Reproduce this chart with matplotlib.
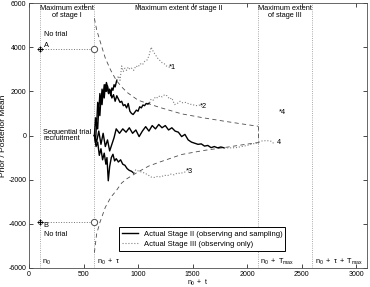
import matplotlib
matplotlib.use('Agg')
import matplotlib.pyplot as plt

plt.rcParams['font.family'] = ['Liberation Sans', 'DejaVu Sans']
plt.rcParams['axes.unicode_minus'] = False
plt.rcParams['mathtext.fontset'] = 'custom'
plt.rcParams['mathtext.rm'] = 'Liberation Sans'
plt.rcParams['mathtext.it'] = 'Liberation Sans'

# stage limits
n0 = 100
tau = 500
t_max = 2000
start_mean = 3900

# stopping boundaries
bound_x = [600, 620, 650, 700, 750, 800, 850, 900, 1000, 1100, 1200, 1400, 1600, 1800, 2000, 2100]
upper_y = [5300, 4800, 4300, 3500, 2950, 2500, 2200, 1950, 1600, 1430, 1270, 980, 800, 640, 490, 420]
lower_y = [-5300, -4470, -3940, -3250, -2800, -2500, -2150, -1950, -1650, -1380, -1200, -860, -680, -540, -390, -320]

# path 1
p1_x = [600, 610, 620, 630, 640, 650, 660, 670, 680, 690, 700, 710, 720, 730, 740, 750, 760, 770, 780, 790, 805]
p1_y = [0, 800, 400, 1500, 1100, 1900, 1500, 2100, 1800, 2300, 2000, 2400, 2200, 1900, 2100, 1800, 2150, 2050, 2300, 2200, 2500]
p1g_x = [805, 820, 835, 850, 865, 880, 895, 910, 925, 940, 960, 980, 1000, 1020, 1040, 1060, 1080, 1100, 1120,
         1140, 1160, 1180, 1200, 1220, 1240, 1260, 1280, 1300]
p1g_y = [2500, 2700, 2500, 3150, 2900, 3050, 2950, 3100, 3000, 3050, 2950, 3150, 3100, 3250, 3200, 3350, 3400, 3600, 4000,
         3800, 3650, 3500, 3400, 3300, 3250, 3150, 3100, 3080]

# path 2
p2_x = [600, 610, 620, 630, 640, 650, 660, 670, 680, 690, 700, 710, 720, 730, 745, 760, 775, 790, 805, 820, 835,
        850, 865, 880, 895, 910, 925, 940, 955, 970, 985, 1000, 1015, 1030, 1045, 1060, 1075, 1090, 1105]
p2_y = [0, -300, 600, 300, 1300, 900, 1700, 1400, 2000, 1700, 2300, 2000, 2250, 1900, 2050, 1700, 1850, 1550, 1800, 1650, 1500,
        1550, 1350, 1400, 1250, 1450, 1100, 1000, 950, 1050, 1150, 1100, 1300, 1250, 1380, 1350, 1450, 1420, 1480]
p2g_x = [1105, 1120, 1140, 1160, 1180, 1200, 1220, 1245, 1265, 1290, 1310, 1335, 1360, 1385, 1410, 1440, 1470, 1500, 1530, 1560, 1585]
p2g_y = [1480, 1650, 1600, 1750, 1700, 1800, 1750, 1850, 1800, 1650, 1700, 1400, 1450, 1550, 1480, 1500, 1420, 1400, 1350, 1380, 1300]

# path 3
p3_x = [600, 615, 630, 645, 660, 675, 690, 705, 715, 727, 740, 755, 770, 785, 800, 820, 840, 860, 880, 900, 920, 940, 960]
p3_y = [0, -500, -300, -900, -600, -1100, -800, -1300, -1000, -2050, -1400, -1000, -850, -1150, -1050, -1200, -1100, -1300,
        -1350, -1500, -1580, -1620, -1700]
p3g_x = [960, 980, 1000, 1030, 1060, 1090, 1120, 1150, 1180, 1210, 1240, 1270, 1300, 1330, 1360, 1390, 1420, 1450]
p3g_y = [-1700, -1550, -1600, -1650, -1700, -1780, -1880, -1900, -1850, -1880, -1800, -1820, -1750, -1780, -1700, -1720,
         -1660, -1650]

# path 4
p4_x = [600, 620, 640, 660, 680, 700, 720, 740, 760, 780, 800, 830, 860, 890, 920, 950, 980, 1010, 1040, 1070, 1100,
        1130, 1160, 1190, 1220, 1250, 1280, 1310, 1340, 1370, 1400, 1430, 1460, 1490, 1520, 1550, 1580, 1610, 1640,
        1670, 1700, 1730, 1760, 1790]
p4_y = [0, -300, 200, -400, 100, -500, -200, -700, -400, -100, 300, 100, 300, 150, 350, 100, 250, -50, 200, 400, 200,
        450, 300, 500, 350, 450, 250, 350, 200, 150, -50, 50, -200, -300, -350, -400, -380, -480, -450,
        -550, -500, -560, -520, -560]
p4g_x = [1790, 1850, 1900, 1950, 2000, 2050, 2100, 2130, 2180, 2220, 2250]
p4g_y = [-560, -560, -550, -500, -450, -380, -330, -250, -230, -260, -380]

black_paths = [(p1_x, p1_y), (p2_x, p2_y), (p3_x, p3_y), (p4_x, p4_y)]
grey_paths = [(p1g_x, p1g_y), (p2g_x, p2g_y), (p3g_x, p3g_y), (p4g_x, p4g_y)]

fig = plt.figure(figsize=(3.7, 2.87), dpi=100)
ax = fig.add_axes([29/370, 19/287, 338/370, 265/287])

# stage limit lines
for xv in [n0, n0 + tau, n0 + t_max, n0 + tau + t_max]:
    ax.axvline(xv, color='0.55', ls=':', lw=0.6)
ax.plot([n0, n0 + tau], [start_mean, start_mean], color='0.45', ls=':', lw=0.7)
ax.plot([n0, n0 + tau], [-start_mean, -start_mean], color='0.45', ls=':', lw=0.7)

# boundaries
ax.plot(bound_x, upper_y, color='0.3', ls=(0, (5, 4)), lw=0.6)
ax.plot(bound_x, lower_y, color='0.3', ls=(0, (5, 4)), lw=0.6)
ax.plot([bound_x[-1], bound_x[-1]], [upper_y[-1], lower_y[-1]], color='0.3', ls=(0, (5, 4)), lw=0.6)

for i, (x, y) in enumerate(black_paths):
    ax.plot(x, y, color='k', lw=1.0, label='Actual Stage II (observing and sampling)' if i == 0 else None)
for i, (x, y) in enumerate(grey_paths):
    ax.plot(x, y, color='0.5', ls=':', lw=0.8, label='Actual Stage III (observing only)' if i == 0 else None)

# start points
ax.plot([n0, n0], [start_mean, -start_mean], 'o', mfc='none', mec='0.3', ms=3, mew=0.6)
ax.plot([n0, n0], [start_mean, -start_mean], '+', color='k', ms=5, mew=0.7)
ax.plot([n0 + tau, n0 + tau], [start_mean, -start_mean], 'o', mfc='white', mec='0.3', ms=4.5, mew=0.7)

fs = 5.3
ax.text(135, 4080, 'A', fontsize=fs, va='center')
ax.text(135, -4080, 'B', fontsize=fs, va='center')
ax.text(135, 4580, 'No trial', fontsize=fs, va='center')
ax.text(135, -4500, 'No trial', fontsize=fs, va='center')
ax.text(130, 0, 'Sequential trial\nrecruitment', fontsize=fs, va='center', linespacing=0.95)
ax.text(350, 5900, 'Maximum extent\nof stage I', fontsize=fs, ha='center', va='top', linespacing=0.95)
ax.text(1370, 5900, 'Maximum extent of stage II', fontsize=fs, ha='center', va='top')
ax.text(2350, 5900, 'Maximum extent\nof stage III', fontsize=fs, ha='center', va='top', linespacing=0.95)

ax.text(p1g_x[-1] - 15, p1g_y[-1], '*1', fontsize=fs, va='center')
ax.text(p2g_x[-1] - 15, p2g_y[-1], '*2', fontsize=fs, va='center')
ax.text(p3g_x[-1] - 15, p3g_y[-1], '*3', fontsize=fs, va='center')
ax.text(p4g_x[-1] + 20, p4g_y[-1] + 50, '4', fontsize=fs, va='center')
ax.text(2290, 1050, '*4', fontsize=fs, va='center')

ax.text(n0 + 20, -5950, r'$\mathregular{n_0}$', fontsize=fs, va='bottom')
ax.text(n0 + tau + 20, -5950, r'$\mathregular{n_0\ +\ \tau}$', fontsize=fs, va='bottom')
ax.text(n0 + t_max + 20, -5950, r'$\mathregular{n_0\ +\ T_{max}}$', fontsize=fs, va='bottom')
ax.text(n0 + tau + t_max + 20, -5950, r'$\mathregular{n_0\ +\ \tau\ +\ T_{max}}$', fontsize=fs, va='bottom')

ax.set_xlim(0, 3100)
ax.set_ylim(-6000, 6000)
ax.set_xticks([0, 500, 1000, 1500, 2000, 2500, 3000])
ax.set_yticks([-6000, -4000, -2000, 0, 2000, 4000, 6000])
ax.tick_params(direction='in', top=True, right=True, labelsize=5, length=3, width=0.5, pad=2)
for s in ax.spines.values():
    s.set_linewidth(0.6)
    s.set_color('0.3')
ax.set_xlabel(r'$\mathregular{n_0\ +\ t}$', fontsize=5, labelpad=0)
ax.set_ylabel('Prior / Posterior Mean', fontsize=6)
ax.yaxis.set_label_coords(-0.066, 0.5)

leg = ax.legend(loc='lower right', bbox_to_anchor=(0.77, 0.05), fontsize=5.5, fancybox=False,
                edgecolor='k', framealpha=1, handlelength=2.0, borderpad=0.4, labelspacing=0.35)
leg.get_frame().set_linewidth(0.7)

fig.savefig('out.png', dpi=100)
